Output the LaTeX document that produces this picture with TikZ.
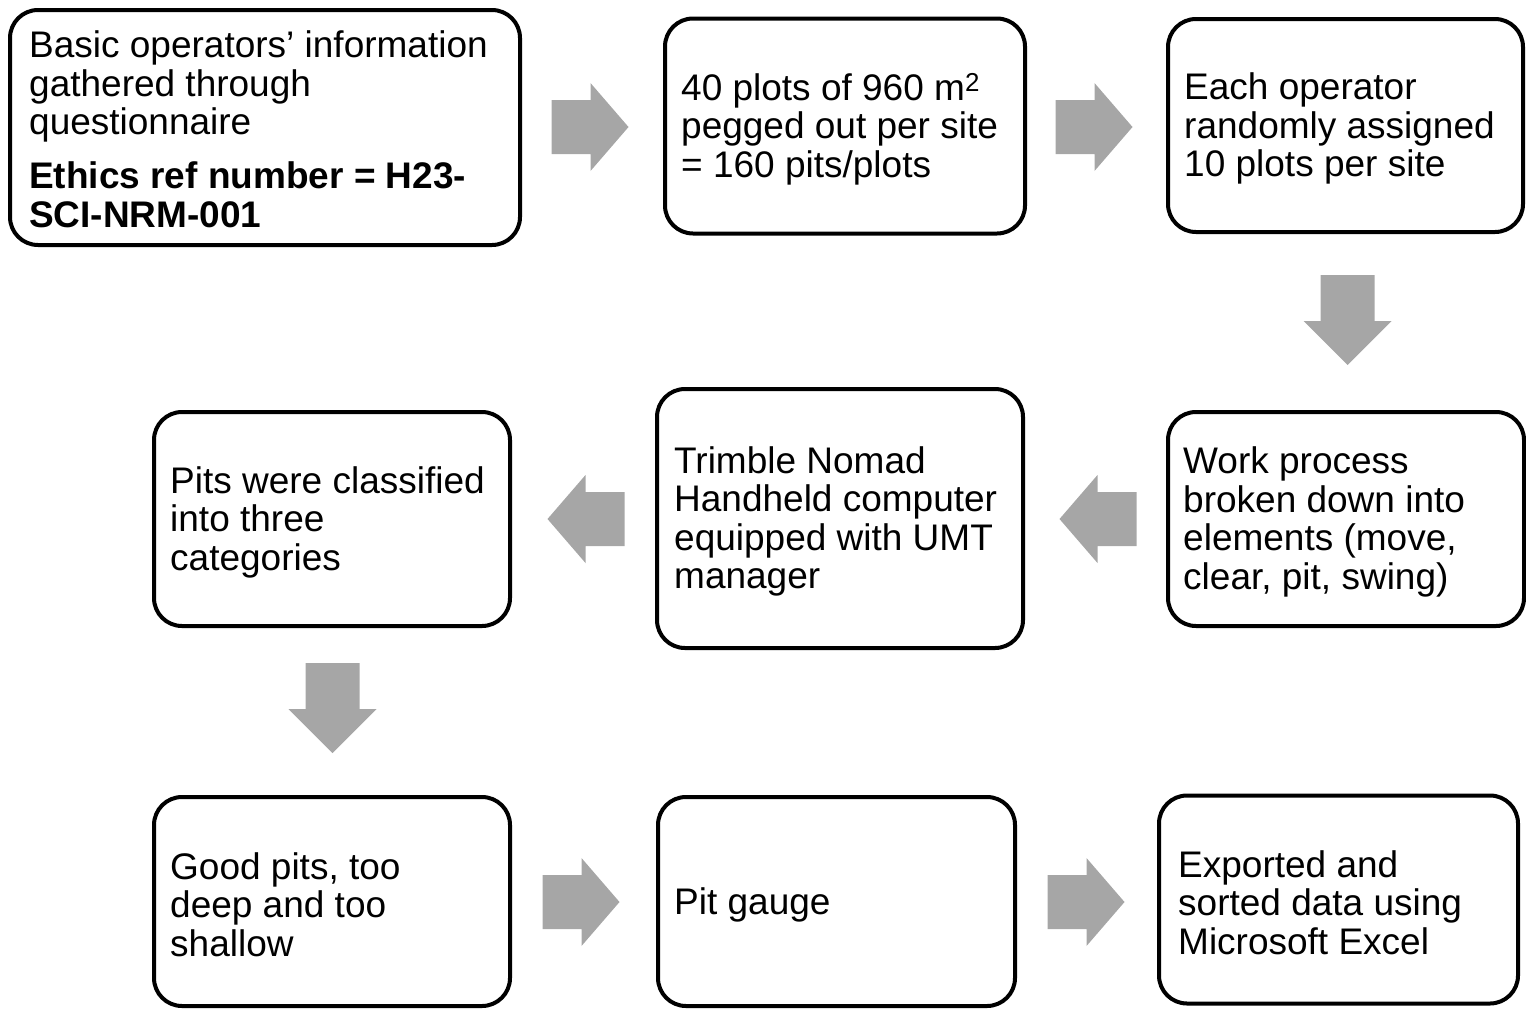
\documentclass[tikz,border=0pt]{standalone}
\usepackage{fontspec}
\setmainfont{Liberation Sans}
\definecolor{arrowgray}{RGB}{166,166,166}
\tikzset{
  stepbox/.style={draw=black, line width=4pt, rounded corners=28pt, inner sep=0pt, fill=white},
  txt/.style={anchor=west, inner sep=0pt, align=left, font=\fontsize{37}{38.5}\selectfont},
  harrow/.pic={\fill[arrowgray] (-38.5,-27) -- (0.5,-27) -- (0.5,-44) -- (38.5,0) -- (0.5,44) -- (0.5,27) -- (-38.5,27) -- cycle;},
  varrow/.pic={\fill[arrowgray] (-27,-45) -- (-27,1) -- (-44,1) -- (0,45) -- (44,1) -- (27,1) -- (27,-45) -- cycle;}
}
\begin{document}
\begin{tikzpicture}[x=1pt,y=-1pt]
\useasboundingbox (0,0) rectangle (1526,1010);
% boxes
\node[stepbox, minimum width=510pt, minimum height=235pt] (b1) at (265,127.5) {};
\node[stepbox, minimum width=360pt, minimum height=215pt] (b2) at (845,126) {};
\node[stepbox, minimum width=355pt, minimum height=213pt] (b3) at (1345.5,125.5) {};
\node[stepbox, minimum width=356pt, minimum height=214pt] (b4) at (1346,519) {};
\node[stepbox, minimum width=366pt, minimum height=259pt] (b5) at (840,518.5) {};
\node[stepbox, minimum width=356pt, minimum height=214pt] (b6) at (332,519) {};
\node[stepbox, minimum width=356pt, minimum height=209pt] (b7) at (332,901.5) {};
\node[stepbox, minimum width=357pt, minimum height=209pt] (b8) at (836.5,901.5) {};
\node[stepbox, minimum width=359pt, minimum height=208pt] (b9) at (1338.5,899.5) {};
% texts
\node[txt] (t1) at ([xshift=21pt,yshift=-2pt]b1.west) {Basic operators’ information\\gathered through\\questionnaire\\[15.5pt]\textbf{Ethics ref number = H23-}\\\textbf{SCI-NRM-001}};
\node[txt] (t2) at ([xshift=18pt,yshift=-3pt]b2.west) {40 plots of 960 m\textsuperscript{2}\\pegged out per site\\= 160 pits/plots};
\node[txt] (t3) at ([xshift=18pt,yshift=-3pt]b3.west) {Each operator\\randomly assigned\\10 plots per site};
\node[txt] (t4) at ([xshift=17pt,yshift=-3pt]b4.west) {Work process\\broken down into\\elements (move,\\clear, pit, swing)};
\node[txt] (t5) at ([xshift=19pt,yshift=-3pt]b5.west) {Trimble Nomad\\Handheld computer\\equipped with UMT\\manager};
\node[txt] (t6) at ([xshift=18pt,yshift=-3pt]b6.west) {Pits were classified\\into three\\categories};
\node[txt] (t7) at ([xshift=18pt,yshift=-3pt]b7.west) {Good pits, too\\deep and too\\shallow};
\node[txt] (t8) at ([xshift=18pt,yshift=-3pt]b8.west) {Pit gauge};
\node[txt] (t9) at ([xshift=21pt,yshift=-3pt]b9.west) {Exported and\\sorted data using\\Microsoft Excel};
% arrows
\pic at (590,127) {harrow};
\pic at (1094,127) {harrow};
\pic at (1347.5,320) {varrow};
\pic[rotate=180] at (1098,519) {harrow};
\pic[rotate=180] at (586,519) {harrow};
\pic at (332.5,708) {varrow};
\pic at (581,902) {harrow};
\pic at (1086,902) {harrow};
\end{tikzpicture}
\end{document}
